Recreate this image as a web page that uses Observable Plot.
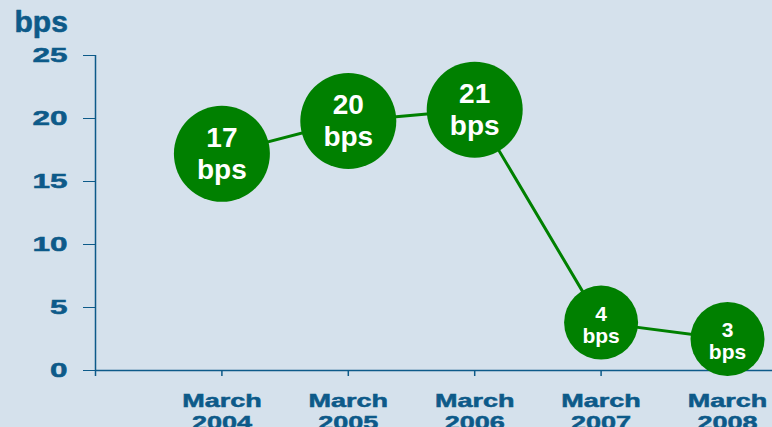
<!DOCTYPE html>
<html><head><meta charset="utf-8">
<script src="https://cdn.jsdelivr.net/npm/d3@7"></script>
<script src="https://cdn.jsdelivr.net/npm/@observablehq/plot@0.6"></script>
<style>
html,body{margin:0;padding:0;background:#d5e1ec;}
</style></head><body><div id="chart"></div>
<script>
const years = [2004, 2005, 2006, 2007, 2008];
const values = [17.2, 19.8, 20.7, 3.8, 2.5];
const bubbleLabels = ["17", "20", "21", "4", "3"];
const month = "March";
const yTicks = [0, 5, 10, 15, 20, 25];
const unit = "bps";

const data = years.map((year, i) => ({year, value: values[i], label: `${bubbleLabels[i]}\n${unit}`}));
const axisColor = "#0d5a89";
const green = "#008000";
const big = d => d.value > 10;
const small = d => d.value <= 10;

const chart = Plot.plot({
  width: 772, height: 427,
  marginLeft: 95, marginRight: 0, marginTop: 55, marginBottom: 57,
  style: {background: "#d5e1ec", fontFamily: "'Liberation Sans', Arial, sans-serif", overflow: "visible"},
  x: {domain: [2003, 2008.356], axis: null},
  y: {domain: [0, 25], axis: null},
  marks: [
    Plot.ruleY([0], {stroke: axisColor, strokeWidth: 1.5}),
    Plot.ruleX([2003], {y1: 0, y2: 25, stroke: axisColor, strokeWidth: 1.5}),
    Plot.axisY({ticks: yTicks, tickSize: 12, tickPadding: 16, fontSize: 21, fontWeight: "bold", color: axisColor, label: null, strokeWidth: 1}),
    Plot.axisX({ticks: [2003, ...years], tickFormat: d => d === 2003 ? "" : `${month}\n${d}`, tickSize: 6, tickPadding: 15, fontSize: 18, fontWeight: "bold", lineHeight: 1.22, color: axisColor, label: null, strokeWidth: 1.5}),
    Plot.text([unit], {text: d => d, frameAnchor: "top-left", lineAnchor: "top", dx: -81, dy: -45, fontSize: 30, fontWeight: "bold", fill: axisColor, stroke: axisColor, strokeWidth: 0.6, textAnchor: "start"}),
    Plot.line(data, {x: "year", y: "value", stroke: green, strokeWidth: 3}),
    Plot.dot(data, {x: "year", y: "value", r: 48, fill: green, filter: big}),
    Plot.dot(data, {x: "year", y: "value", r: 37, fill: green, filter: small}),
    Plot.text(data, {x: "year", y: "value", text: "label", fill: "white", fontWeight: "bold", fontSize: 28, lineHeight: 1.14, dy: -1, filter: big}),
    Plot.text(data, {x: "year", y: "value", text: "label", fill: "white", fontWeight: "bold", fontSize: 21, lineHeight: 1.05, dy: 2, filter: small})
  ]
});

// horizontally stretch (and embolden) the axis tick labels like the reference
chart.querySelectorAll('g[aria-label="y-axis tick label"] text, g[aria-label="x-axis tick label"] text').forEach(el => {
  const x = +(el.getAttribute("x") || 0);
  const t = el.getAttribute("transform") || "";
  el.setAttribute("transform", `${t} translate(${x},0) scale(1.5,1) translate(${-x},0)`);
  el.setAttribute("stroke", axisColor);
  el.setAttribute("stroke-width", "0.5");
});

document.getElementById("chart").appendChild(chart);
</script></body></html>
